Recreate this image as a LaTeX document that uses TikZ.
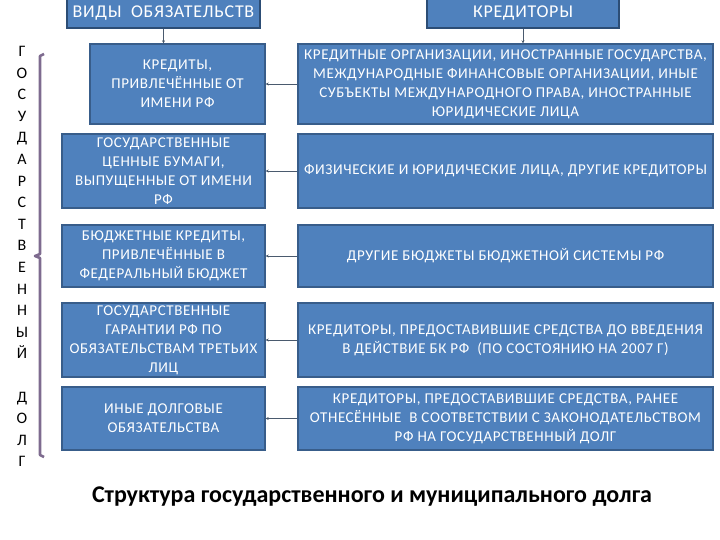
\documentclass[tikz,border=0pt]{standalone}
\usepackage{fontspec}
\setmainfont{Carlito}
\usetikzlibrary{arrows.meta}

\definecolor{boxblue}{HTML}{4F81BD}
\definecolor{boxedge}{HTML}{385D8A}
\definecolor{headedge}{HTML}{2C4D75}
\definecolor{bracecol}{HTML}{7E6B8F}
\definecolor{linkcol}{HTML}{4A5A6E}

\tikzset{
    box/.style={draw=boxedge, line width=1.4pt, fill=boxblue, text=white,
        align=center, inner sep=1pt,
        font=\fontsize{15}{19}\selectfont\addfontfeature{LetterSpace=4}},
    vid/.style={box, minimum width=203, minimum height=#1},
    kred/.style={box, minimum width=415, minimum height=#1},
    shapka/.style={draw=headedge, line width=1.4pt, fill=boxblue, text=white,
        minimum height=30, font=\fontsize{18}{20}\selectfont\addfontfeature{LetterSpace=4}},
    link/.style={draw=linkcol, line width=0.9pt, -{Stealth[length=3pt, width=3pt]}},
}

\begin{document}
\begin{tikzpicture}[x=1pt, y=-1pt]
    \useasboundingbox (0,0) rectangle (720,540);

    % заголовки
    \node[shapka, minimum width=193] (vid_head)  at (163.5, 13) {ВИДЫ\ \ ОБЯЗАТЕЛЬСТВ};
    \node[shapka, minimum width=192] (kred_head) at (523, 13)   {КРЕДИТОРЫ};

    % виды обязательств
    \node[vid=80, minimum width=175] (vid1) at (177.5, 84) {КРЕДИТЫ,\\ ПРИВЛЕЧЁННЫЕ ОТ\\ ИМЕНИ РФ};
    \node[vid=74] (vid2) at (163.5, 171) {ГОСУДАРСТВЕННЫЕ\\ ЦЕННЫЕ БУМАГИ,\\ ВЫПУЩЕННЫЕ ОТ ИМЕНИ\\ РФ};
    \node[vid=62] (vid3) at (163.5, 256) {БЮДЖЕТНЫЕ КРЕДИТЫ,\\ ПРИВЛЕЧЁННЫЕ В\\ ФЕДЕРАЛЬНЫЙ БЮДЖЕТ};
    \node[vid=74] (vid4) at (163.5, 340) {ГОСУДАРСТВЕННЫЕ\\ ГАРАНТИИ РФ ПО\\ ОБЯЗАТЕЛЬСТВАМ ТРЕТЬИХ\\ ЛИЦ};
    \node[vid=63] (vid5) at (163.5, 418.5) {ИНЫЕ ДОЛГОВЫЕ\\ ОБЯЗАТЕЛЬСТВА};

    % кредиторы
    \node[kred=80] (kred1) at (505.5, 84) {КРЕДИТНЫЕ ОРГАНИЗАЦИИ, ИНОСТРАННЫЕ ГОСУДАРСТВА,\\
        МЕЖДУНАРОДНЫЕ ФИНАНСОВЫЕ ОРГАНИЗАЦИИ, ИНЫЕ\\
        СУБЪЕКТЫ МЕЖДУНАРОДНОГО ПРАВА, ИНОСТРАННЫЕ\\ ЮРИДИЧЕСКИЕ ЛИЦА};
    \node[kred=74] (kred2) at (505.5, 171) {ФИЗИЧЕСКИЕ И ЮРИДИЧЕСКИЕ ЛИЦА, ДРУГИЕ КРЕДИТОРЫ};
    \node[kred=62] (kred3) at (505.5, 256) {ДРУГИЕ БЮДЖЕТЫ БЮДЖЕТНОЙ СИСТЕМЫ РФ};
    \node[kred=74] (kred4) at (505.5, 340) {КРЕДИТОРЫ, ПРЕДОСТАВИВШИЕ СРЕДСТВА ДО ВВЕДЕНИЯ\\
        В ДЕЙСТВИЕ БК РФ\ \ (ПО СОСТОЯНИЮ НА 2007 Г)};
    \node[kred=63] (kred5) at (505.5, 418.5) {КРЕДИТОРЫ, ПРЕДОСТАВИВШИЕ СРЕДСТВА, РАНЕЕ\\
        ОТНЕСЁННЫЕ\ \ В СООТВЕТСТВИИ С ЗАКОНОДАТЕЛЬСТВОМ\\ РФ НА ГОСУДАРСТВЕННЫЙ ДОЛГ};

    % стрелки от заголовков
    \draw[link] (vid_head.south)  -- (vid_head.south |- vid1.north);
    \draw[link] (kred_head.south) -- (kred_head.south |- kred1.north);
    % стрелки кредитор -> обязательство
    \draw[link] (kred1.west) -- (vid1.east);
    \draw[link] (kred2.west) -- (vid2.east);
    \draw[link] (kred3.west) -- (vid3.east);
    \draw[link] (kred4.west) -- (vid4.east);
    \draw[link] (kred5.west) -- (vid5.east);

    % скобка и вертикальная подпись
    \draw[bracecol, line width=2.6pt, line join=round]
        (44, 54) -- (40, 56) -- (40, 254) -- (35, 256) -- (40, 258) -- (40, 455) -- (44, 457);
    \node[anchor=north, align=center, inner sep=0pt, font=\fontsize{16}{21.6}\selectfont]
        (gos_dolg) at (22, 46) {Г\\ О\\ С\\ У\\ Д\\ А\\ Р\\ С\\ Т\\ В\\ Е\\ Н\\ Н\\ Ы\\ Й\\[21.6pt] Д\\ О\\ Л\\ Г};

    % подпись
    \node[font=\bfseries\fontsize{24}{28}\selectfont] (title) at (372, 497)
        {Структура государственного и муниципального долга};

\end{tikzpicture}
\end{document}
